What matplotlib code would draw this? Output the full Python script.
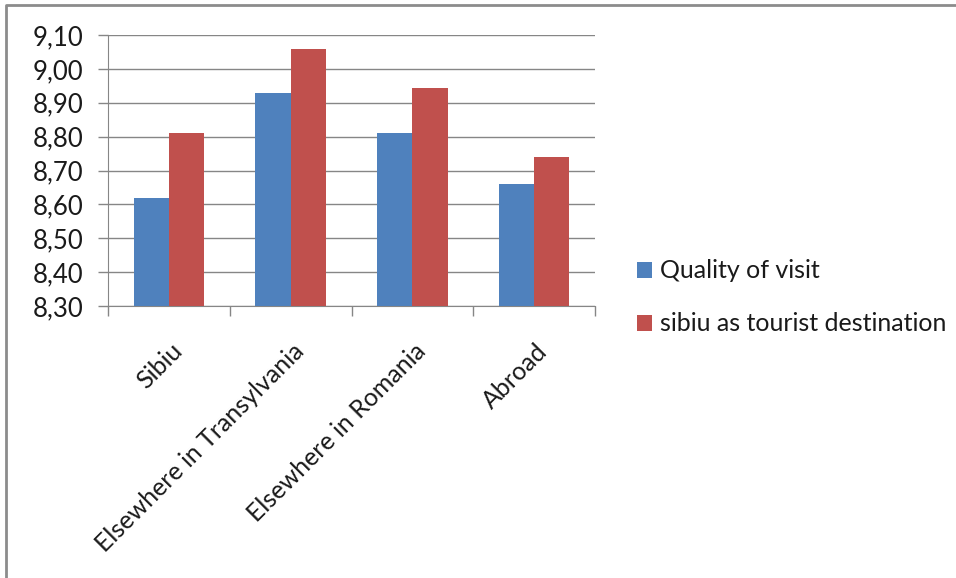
import matplotlib
matplotlib.use("Agg")
import matplotlib.pyplot as plt
import numpy as np
from matplotlib.lines import Line2D

categories = ["Sibiu", "Elsewhere in Transylvania", "Elsewhere in Romania", "Abroad"]
quality_of_visit = [8.62, 8.93, 8.81, 8.66]
sibiu_destination = [8.81, 9.06, 8.945, 8.74]
series_names = ["Quality of visit", "sibiu as tourist destination"]
yticks = [8.30, 8.40, 8.50, 8.60, 8.70, 8.80, 8.90, 9.00, 9.10]
ytick_labels = ["8,30", "8,40", "8,50", "8,60", "8,70", "8,80", "8,90", "9,00", "9,10"]

plt.rcParams['font.family'] = ['Lato', 'DejaVu Sans']

W, H = 956, 578
fig = plt.figure(figsize=(W/100, H/100), dpi=100)
fig.patch.set_facecolor('white')
ax = fig.add_axes([108/W, 1-306/H, (595-108)/W, (306-35)/H])

x = np.arange(len(categories))
bw = 0.29
gcol = '#868686'
tcol = '#1a1a1a'
ax.bar(x - bw/2, quality_of_visit, bw, color='#4F81BD', label=series_names[0], zorder=3)
ax.bar(x + bw/2, sibiu_destination, bw, color='#C0504D', label=series_names[1], zorder=3)

ax.set_xlim(-0.5, len(categories)-0.5)
ax.set_ylim(8.30, 9.10)
ax.set_yticks(yticks)
ax.set_yticklabels(ytick_labels, fontsize=18.5, color=tcol)
ax.yaxis.grid(True, color=gcol, linewidth=1, zorder=0)
ax.set_axisbelow(True)

ax.set_xticks(np.arange(-0.5, len(categories), 1.0))
ax.set_xticklabels([])
ax.tick_params(axis='x', length=7, color=gcol, width=1, direction='out')
ax.tick_params(axis='y', length=7, color=gcol, width=1, direction='out', pad=11)
for s in ['top', 'right']:
    ax.spines[s].set_visible(False)
for s in ['left', 'bottom']:
    ax.spines[s].set_color(gcol)

for i, c in enumerate(categories):
    ax.annotate(c, xy=(i, 8.30), xycoords='data', xytext=(1, -24), textcoords='offset points',
                rotation=45, ha='right', va='top', rotation_mode='anchor', fontsize=18, color=tcol)

fig.legend(loc='center left', bbox_to_anchor=(637/W, 1-297.5/H), frameon=False, fontsize=18,
           handlelength=0.6, handleheight=0.6, handletextpad=0.3, labelspacing=1.2,
           borderpad=0, borderaxespad=0, labelcolor=tcol)

fig.add_artist(Line2D([6/W, 6/W, 1.0], [0.0, 1-5/H, 1-5/H], transform=fig.transFigure,
                      color='#8c8c8c', linewidth=2))

fig.savefig('out.png', dpi=100, facecolor='white')
